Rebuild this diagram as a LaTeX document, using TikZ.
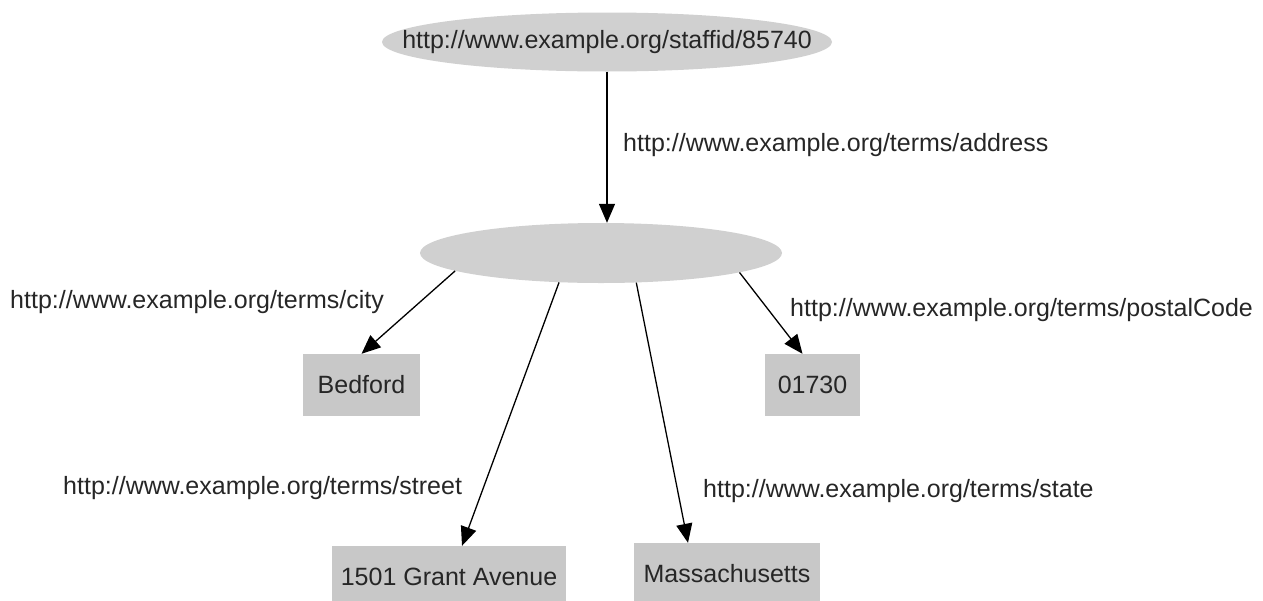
\documentclass[tikz,border=0pt]{standalone}
\usepackage{fontspec}
\setmainfont{Liberation Sans}
\usetikzlibrary{shapes.geometric,arrows.meta}
\definecolor{ellgray}{RGB}{208,208,208}
\definecolor{boxgray}{RGB}{200,200,200}
\tikzset{
  txt/.style={font=\fontsize{25}{30}\selectfont, text=black!85},
  res/.style={ellipse, fill=ellgray, inner sep=0pt},
  lit/.style={rectangle, fill=boxgray, inner sep=0pt, minimum height=62pt, txt},
  lbl/.style={anchor=west, inner sep=0pt, txt},
  edge/.style={line width=1.3pt, -{Triangle[length=19pt,width=16pt]}}
}
\begin{document}
\begin{tikzpicture}[x=1pt,y=-1pt]
\useasboundingbox (0,0) rectangle (1263,600);
\node[res, minimum width=450pt, minimum height=59pt] (top) at (607,42) {};
\node[txt, inner sep=0pt] (toptext) at (top.center) {http://www.example.org/staffid/85740};
\node[res, minimum width=362pt, minimum height=60pt] (mid) at (601,253) {};
\node[lit, minimum width=117pt] (bedford) at (361.5,385) {Bedford};
\node[lit, minimum width=95pt] (zip) at (812.5,385) {01730};
\node[lit, minimum width=234pt] (street) at (449,577) {1501 Grant Avenue};
\node[lit, minimum width=186pt] (state) at (727,574) {Massachusetts};
\node[lbl] (laddr) at (623,145) {http://www.example.org/terms/address};
\node[lbl] (lcity) at (10,302) {http://www.example.org/terms/city};
\node[lbl] (lzip) at (790,310) {http://www.example.org/terms/postalCode};
\node[lbl] (lstreet) at (63,488) {http://www.example.org/terms/street};
\node[lbl] (lstate) at (703,491) {http://www.example.org/terms/state};
\draw[edge] (top.south) -- (top.south |- mid.north);
\draw[edge] (mid.187) -- (bedford.north);
\draw[edge] (mid.352) -- ([xshift=-10pt]zip.north);
\draw[edge] (mid.215) -- ([xshift=13pt]street.north);
\draw[edge] (mid.320) -- ([xshift=-39pt]state.north);
\end{tikzpicture}
\end{document}
